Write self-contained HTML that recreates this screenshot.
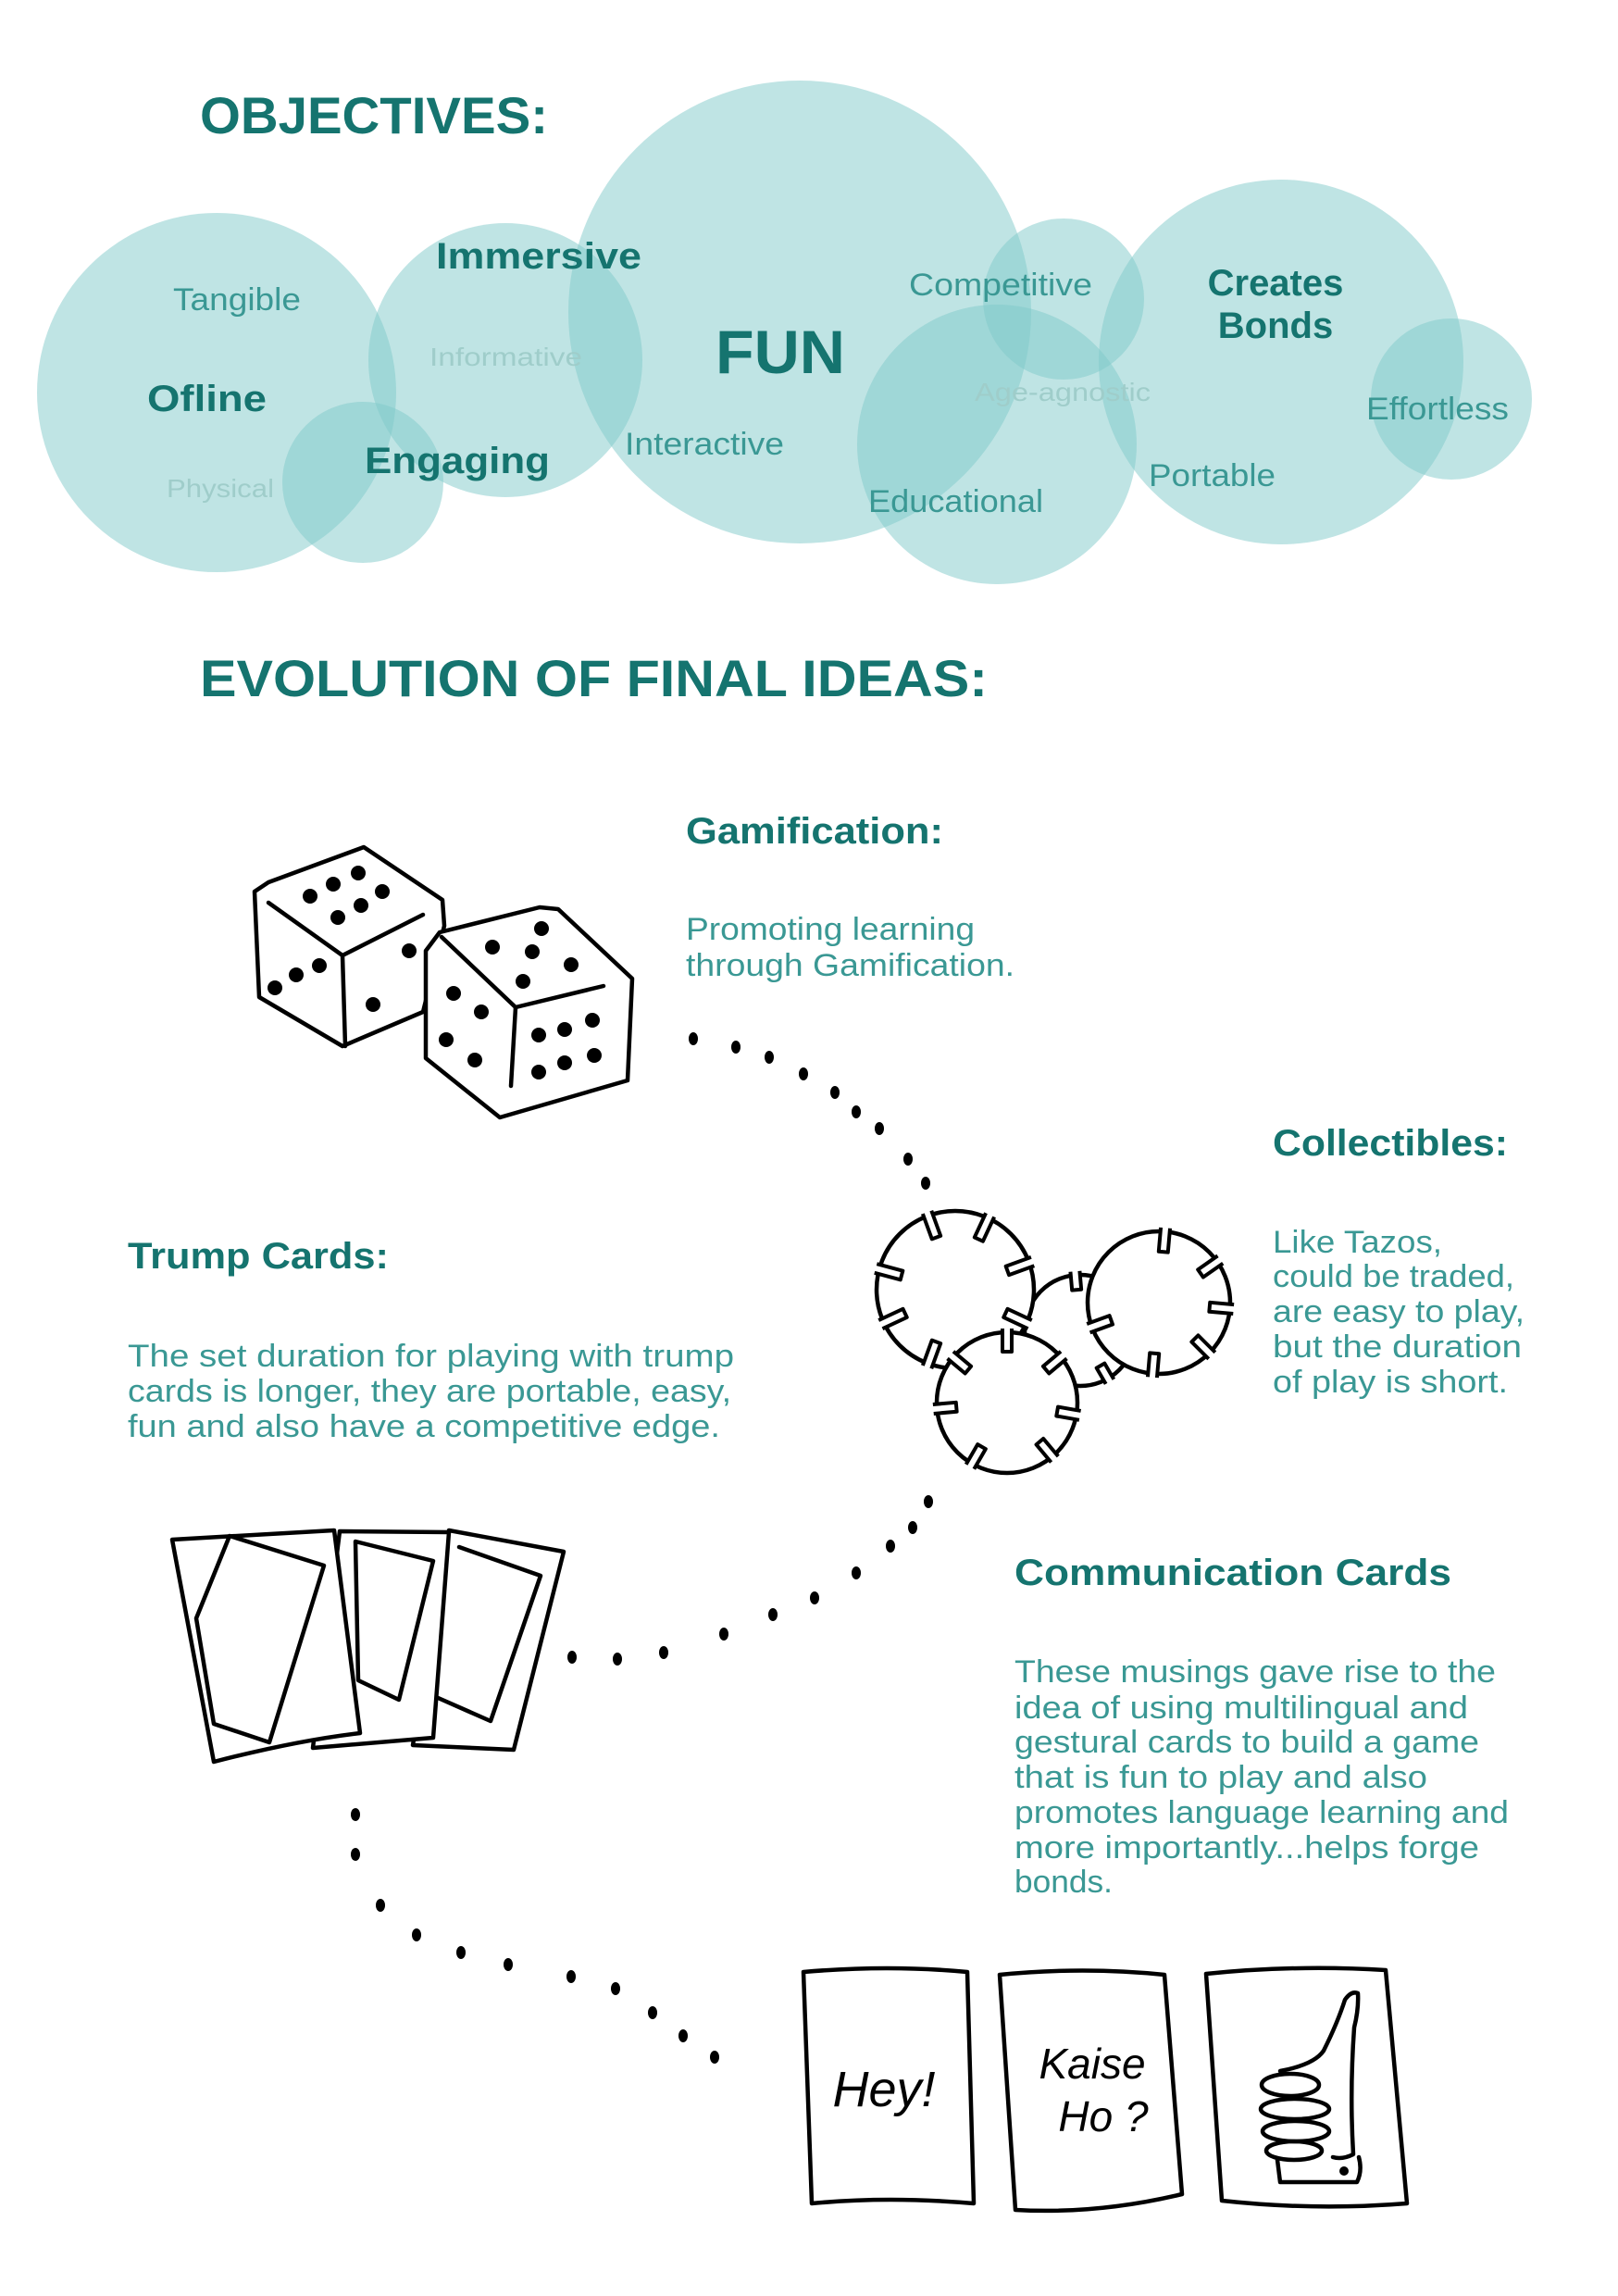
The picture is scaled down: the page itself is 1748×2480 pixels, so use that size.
<!DOCTYPE html>
<html><head><meta charset="utf-8"><style>
html,body{margin:0;padding:0;background:#fff;}
svg{display:block;}
text{font-family:"Liberation Sans",sans-serif;}
.b{font-weight:bold;fill:#15746f;}
.r{fill:#3a9894;}
.l{fill:#9fcdca;}
.k{fill:none;stroke:#000;stroke-width:4.5;stroke-linejoin:round;stroke-linecap:round;}
.n{fill:#fff;stroke:#000;stroke-width:4;stroke-linejoin:round;}
.w{fill:#fff;stroke:#000;stroke-width:4.5;stroke-linejoin:round;}
</style></head><body>
<svg width="1748" height="2480" viewBox="0 0 1748 2480" xmlns="http://www.w3.org/2000/svg">
<rect width="1748" height="2480" fill="#fff"/>
<g fill="#7fcaca" fill-opacity="0.5">
<circle cx="234" cy="424" r="194"/>
<circle cx="392" cy="521" r="87"/>
<circle cx="546" cy="389" r="148"/>
<circle cx="864" cy="337" r="250"/>
<circle cx="1149" cy="323" r="87"/>
<circle cx="1077" cy="480" r="151"/>
<circle cx="1384" cy="391" r="197"/>
<circle cx="1568" cy="431" r="87"/>
</g>
<text class="b" x="216" y="144" font-size="56" textLength="376" lengthAdjust="spacingAndGlyphs">OBJECTIVES:</text>
<text class="r" x="187" y="335" font-size="34" textLength="138" lengthAdjust="spacingAndGlyphs">Tangible</text>
<text class="b" x="159" y="444" font-size="40" textLength="129" lengthAdjust="spacingAndGlyphs">Ofline</text>
<text class="l" x="180" y="537" font-size="28" textLength="116" lengthAdjust="spacingAndGlyphs">Physical</text>
<text class="b" x="471" y="290" font-size="40" textLength="222" lengthAdjust="spacingAndGlyphs">Immersive</text>
<text class="l" x="464" y="395" font-size="28" textLength="165" lengthAdjust="spacingAndGlyphs">Informative</text>
<text class="b" x="394" y="511" font-size="40" textLength="200" lengthAdjust="spacingAndGlyphs">Engaging</text>
<text class="b" x="773" y="403" font-size="66" textLength="140" lengthAdjust="spacingAndGlyphs">FUN</text>
<text class="r" x="675" y="491" font-size="34" textLength="172" lengthAdjust="spacingAndGlyphs">Interactive</text>
<text class="r" x="982" y="319" font-size="34" textLength="198" lengthAdjust="spacingAndGlyphs">Competitive</text>
<text class="l" x="1053" y="433" font-size="28" textLength="190" lengthAdjust="spacingAndGlyphs">Age-agnostic</text>
<text class="r" x="938" y="553" font-size="34" textLength="189" lengthAdjust="spacingAndGlyphs">Educational</text>
<text class="b" x="1378" y="319" font-size="40" text-anchor="middle">Creates</text>
<text class="b" x="1378" y="365" font-size="40" text-anchor="middle">Bonds</text>
<text class="r" x="1241" y="525" font-size="34" textLength="137" lengthAdjust="spacingAndGlyphs">Portable</text>
<text class="r" x="1476" y="453" font-size="34" textLength="154" lengthAdjust="spacingAndGlyphs">Effortless</text>

<text class="b" x="216" y="752" font-size="56" textLength="851" lengthAdjust="spacingAndGlyphs">EVOLUTION OF FINAL IDEAS:</text>

<text class="b" x="741" y="911" font-size="40" textLength="278" lengthAdjust="spacingAndGlyphs">Gamification:</text>
<text class="r" x="741" y="1015" font-size="34" textLength="312" lengthAdjust="spacingAndGlyphs">Promoting learning</text>
<text class="r" x="741" y="1054" font-size="34" textLength="355" lengthAdjust="spacingAndGlyphs">through Gamification.</text>
<text class="b" x="1375" y="1248" font-size="40" textLength="254" lengthAdjust="spacingAndGlyphs">Collectibles:</text>
<g class="r" font-size="34">
<text x="1375" y="1353" textLength="183" lengthAdjust="spacingAndGlyphs">Like Tazos,</text>
<text x="1375" y="1390" textLength="261" lengthAdjust="spacingAndGlyphs">could be traded,</text>
<text x="1375" y="1428" textLength="272" lengthAdjust="spacingAndGlyphs">are easy to play,</text>
<text x="1375" y="1466" textLength="269" lengthAdjust="spacingAndGlyphs">but the duration</text>
<text x="1375" y="1504" textLength="254" lengthAdjust="spacingAndGlyphs">of play is short.</text>
</g>
<text class="b" x="138" y="1370" font-size="40" textLength="282" lengthAdjust="spacingAndGlyphs">Trump Cards:</text>
<g class="r" font-size="34">
<text x="138" y="1476" textLength="655" lengthAdjust="spacingAndGlyphs">The set duration for playing with trump</text>
<text x="138" y="1514" textLength="652" lengthAdjust="spacingAndGlyphs">cards is longer, they are portable, easy,</text>
<text x="138" y="1552" textLength="640" lengthAdjust="spacingAndGlyphs">fun and also have a competitive edge.</text>
</g>
<text class="b" x="1096" y="1712" font-size="40" textLength="472" lengthAdjust="spacingAndGlyphs">Communication Cards</text>
<g class="r" font-size="34">
<text x="1096" y="1817" textLength="520" lengthAdjust="spacingAndGlyphs">These musings gave rise to the</text>
<text x="1096" y="1856" textLength="490" lengthAdjust="spacingAndGlyphs">idea of using multilingual and</text>
<text x="1096" y="1893" textLength="502" lengthAdjust="spacingAndGlyphs">gestural cards to build a game</text>
<text x="1096" y="1931" textLength="446" lengthAdjust="spacingAndGlyphs">that is fun to play and also</text>
<text x="1096" y="1969" textLength="534" lengthAdjust="spacingAndGlyphs">promotes language learning and</text>
<text x="1096" y="2007" textLength="502" lengthAdjust="spacingAndGlyphs">more importantly...helps forge</text>
<text x="1096" y="2044" textLength="106" lengthAdjust="spacingAndGlyphs">bonds.</text>
</g>

<g fill="#000">
<ellipse cx="749" cy="1122" rx="5" ry="7"/><ellipse cx="795" cy="1131" rx="5" ry="7"/><ellipse cx="831" cy="1142" rx="5" ry="7"/><ellipse cx="868" cy="1160" rx="5" ry="7"/><ellipse cx="902" cy="1180" rx="5" ry="7"/><ellipse cx="925" cy="1201" rx="5" ry="7"/><ellipse cx="950" cy="1219" rx="5" ry="7"/><ellipse cx="981" cy="1252" rx="5" ry="7"/><ellipse cx="1000" cy="1278" rx="5" ry="7"/>
<ellipse cx="1003" cy="1622" rx="5" ry="7"/><ellipse cx="986" cy="1650" rx="5" ry="7"/><ellipse cx="962" cy="1670" rx="5" ry="7"/><ellipse cx="925" cy="1699" rx="5" ry="7"/><ellipse cx="880" cy="1726" rx="5" ry="7"/><ellipse cx="835" cy="1744" rx="5" ry="7"/><ellipse cx="782" cy="1765" rx="5" ry="7"/><ellipse cx="717" cy="1785" rx="5" ry="7"/><ellipse cx="667" cy="1792" rx="5" ry="7"/><ellipse cx="618" cy="1790" rx="5" ry="7"/>
<ellipse cx="384" cy="1960" rx="5" ry="7"/><ellipse cx="384" cy="2003" rx="5" ry="7"/><ellipse cx="411" cy="2058" rx="5" ry="7"/><ellipse cx="450" cy="2090" rx="5" ry="7"/><ellipse cx="498" cy="2109" rx="5" ry="7"/><ellipse cx="549" cy="2122" rx="5" ry="7"/><ellipse cx="617" cy="2135" rx="5" ry="7"/><ellipse cx="665" cy="2148" rx="5" ry="7"/><ellipse cx="705" cy="2174" rx="5" ry="7"/><ellipse cx="738" cy="2199" rx="5" ry="7"/><ellipse cx="772" cy="2222" rx="5" ry="7"/>
</g>

<path class="w" d="M290,953 L393,915 L478,972 L480,1000 L457,1093 L370,1130 L280,1077 L275,963 Z"/>
<path class="k" d="M290,975 L370,1032 L457,988 M370,1032 L373,1130"/>
<g fill="#000">
<circle cx="387" cy="943" r="8"/><circle cx="360" cy="955" r="8"/><circle cx="335" cy="968" r="8"/><circle cx="413" cy="963" r="8"/><circle cx="390" cy="978" r="8"/><circle cx="365" cy="991" r="8"/>
<circle cx="297" cy="1067" r="8"/><circle cx="320" cy="1053" r="8"/><circle cx="345" cy="1043" r="8"/>
<circle cx="442" cy="1027" r="8"/><circle cx="403" cy="1085" r="8"/>
</g>
<path class="w" d="M475,1007 L583,980 L603,982 L683,1057 L678,1167 L540,1207 L460,1143 L460,1027 Z"/>
<path class="k" d="M477,1012 L557,1088 L652,1065 M557,1088 L552,1173"/>
<g fill="#000">
<circle cx="585" cy="1003" r="8"/><circle cx="532" cy="1023" r="8"/><circle cx="575" cy="1028" r="8"/><circle cx="617" cy="1042" r="8"/><circle cx="565" cy="1060" r="8"/>
<circle cx="490" cy="1073" r="8"/><circle cx="520" cy="1093" r="8"/><circle cx="482" cy="1123" r="8"/><circle cx="513" cy="1145" r="8"/>
<circle cx="582" cy="1118" r="8"/><circle cx="610" cy="1112" r="8"/><circle cx="640" cy="1102" r="8"/><circle cx="582" cy="1158" r="8"/><circle cx="610" cy="1148" r="8"/><circle cx="642" cy="1140" r="8"/>
</g>

<g transform="translate(1167,1437)">
<circle class="w" r="60"/>
<g class="n"><path d="M64,-5 L44,-5 L44,5 L64,5" transform="rotate(-95)"/><path d="M64,-5 L44,-5 L44,5 L64,5" transform="rotate(25)"/><path d="M64,-5 L44,-5 L44,5 L64,5" transform="rotate(60)"/></g>
</g>
<g transform="translate(1032,1393)">
<circle class="w" r="85"/>
<g class="n">
<path d="M89,-5 L60,-5 L60,5 L89,5" transform="rotate(-110)"/><path d="M89,-5 L60,-5 L60,5 L89,5" transform="rotate(-65)"/><path d="M89,-5 L60,-5 L60,5 L89,5" transform="rotate(-20)"/><path d="M89,-5 L60,-5 L60,5 L89,5" transform="rotate(25)"/><path d="M89,-5 L60,-5 L60,5 L89,5" transform="rotate(110)"/><path d="M89,-5 L60,-5 L60,5 L89,5" transform="rotate(155)"/><path d="M89,-5 L60,-5 L60,5 L89,5" transform="rotate(-165)"/>
</g></g>
<g transform="translate(1252,1407)">
<circle class="w" r="77"/>
<g class="n">
<path d="M81,-5 L55,-5 L55,5 L81,5" transform="rotate(-85)"/><path d="M81,-5 L55,-5 L55,5 L81,5" transform="rotate(-35)"/><path d="M81,-5 L55,-5 L55,5 L81,5" transform="rotate(5)"/><path d="M81,-5 L55,-5 L55,5 L81,5" transform="rotate(45)"/><path d="M81,-5 L55,-5 L55,5 L81,5" transform="rotate(95)"/><path d="M81,-5 L55,-5 L55,5 L81,5" transform="rotate(160)"/>
</g></g>
<g transform="translate(1088,1515)">
<circle class="w" r="76"/>
<g class="n">
<path d="M80,-5 L55,-5 L55,5 L80,5" transform="rotate(-90)"/><path d="M80,-5 L55,-5 L55,5 L80,5" transform="rotate(-40)"/><path d="M80,-5 L55,-5 L55,5 L80,5" transform="rotate(10)"/><path d="M80,-5 L55,-5 L55,5 L80,5" transform="rotate(50)"/><path d="M80,-5 L55,-5 L55,5 L80,5" transform="rotate(120)"/><path d="M80,-5 L55,-5 L55,5 L80,5" transform="rotate(175)"/><path d="M80,-5 L55,-5 L55,5 L80,5" transform="rotate(-140)"/>
</g></g>

<path class="w" d="M485,1653 L609,1676 L555,1890 L446,1885 Z"/>
<path class="k" d="M496,1671 L584,1702 L530,1859 L471,1833"/>
<path class="w" d="M367,1654 L485,1655 L468,1877 L338,1888 Z"/>
<path class="k" d="M384,1665 L468,1686 L431,1836 L387,1815 Z"/>
<path class="w" d="M186,1663 L361,1653 L389,1872 Q320,1880 231,1903 Z"/>
<path class="k" d="M248,1659 L350,1691 L291,1882 L231,1862 L212,1748 Z"/>

<path class="w" d="M868,2130 Q960,2122 1045,2130 L1052,2380 Q960,2372 877,2380 Z"/>
<path class="w" d="M1080,2133 Q1170,2124 1258,2133 L1277,2370 Q1185,2392 1097,2387 Z"/>
<path class="w" d="M1303,2132 Q1400,2122 1497,2128 L1520,2380 Q1420,2388 1320,2377 Z"/>
<text x="955" y="2275" font-family="'Liberation Serif',serif" font-style="italic" font-size="54" text-anchor="middle" fill="#000">Hey!</text>
<text x="1180" y="2245" font-family="'Liberation Serif',serif" font-style="italic" font-size="46" text-anchor="middle" fill="#000">Kaise</text>
<text x="1192" y="2302" font-family="'Liberation Serif',serif" font-style="italic" font-size="46" text-anchor="middle" fill="#000">Ho ?</text>
<g class="k" stroke-width="4">
<path d="M1383,2237 Q1420,2230 1430,2215 Q1445,2185 1453,2160 Q1460,2150 1467,2153 Q1468,2170 1463,2190 Q1458,2260 1462,2327 Q1450,2333 1440,2330"/>
<ellipse cx="1394" cy="2252" rx="31" ry="12"/><ellipse cx="1399" cy="2278" rx="37" ry="11"/><ellipse cx="1400" cy="2302" rx="36" ry="11"/><ellipse cx="1398" cy="2323" rx="30" ry="10"/>
<path d="M1380,2333 L1383,2357 L1466,2357 Q1472,2345 1468,2330"/>
</g>
<circle cx="1452" cy="2345" r="5" fill="#000"/>
</svg>
</body></html>
